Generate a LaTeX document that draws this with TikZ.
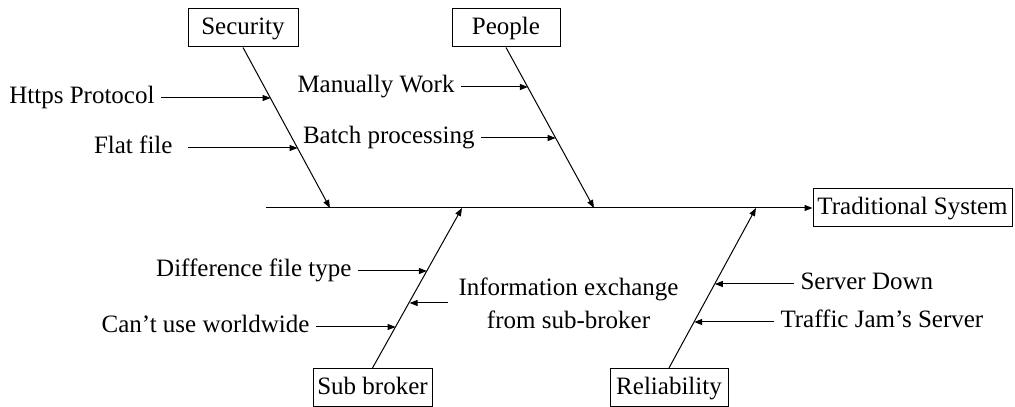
\documentclass[tikz,border=0pt]{standalone}
\usepackage{fontspec}
\setmainfont{Liberation Serif}
\usetikzlibrary{arrows.meta}

\begin{document}
\begin{tikzpicture}[line width=1bp,font=\fontsize{25bp}{31bp}\selectfont,
	box/.style={draw,rectangle,inner sep=0bp,minimum height=38bp,text height=18bp,text depth=4bp},
	cause/.style={inner xsep=6bp,inner ysep=0bp,text height=17bp,text depth=5bp},
	bone/.style={-{Triangle[length=8bp,width=6bp]}}]
		%%
	\useasboundingbox (0bp,0bp) rectangle (1015bp,407bp);
  \node (Sec) at (243bp,379bp) [box,minimum width=110bp] {Security};
  \node (Ppl) at (506bp,379bp) [box,minimum width=108bp] {People};
  \node (Sub) at (372.5bp,19.5bp) [box,minimum width=119bp] {Sub broker};
  \node (Rel) at (669bp,19.5bp) [box,minimum width=118bp] {Reliability};
  \node (Trad) at (912.5bp,199bp) [box,minimum width=199bp] {Traditional System};
  \coordinate (Tail) at (266bp,199bp);
  \coordinate (SecHit) at (330bp,199bp);
  \coordinate (PplHit) at (594bp,199bp);
  \coordinate (SubHit) at (462bp,199bp);
  \coordinate (RelHit) at (756bp,199bp);
  \draw [bone] (Tail) -- (Trad);
  \draw [bone] (Sec.south) -- (SecHit);
  \draw [bone] (Ppl.south) -- (PplHit);
  \draw [bone] (Sub.north) -- (SubHit);
  \draw [bone] (Rel.north) -- (RelHit);
  % security
  \node (Https) at (161bp,309bp) [cause,anchor=east] {Https Protocol};
  \node (Flat) at (179bp,259bp) [cause,anchor=east] {Flat file};
  \coordinate (S1) at (270.6bp,309bp);
  \coordinate (S2) at (297.6bp,259bp);
  \draw [bone] (Https) -- (S1);
  \draw [bone,shorten <=9bp] (Flat) -- (S2);
  % people
  \node (Manual) at (461bp,320bp) [cause,anchor=east] {Manually Work};
  \node (Batch) at (481bp,269bp) [cause,anchor=east] {Batch processing};
  \coordinate (P1) at (527.9bp,320bp);
  \coordinate (P2) at (555.7bp,269bp);
  \draw [bone] (Manual) -- (P1);
  \draw [bone] (Batch) -- (P2);
  % sub broker
  \node (Diff) at (358bp,136bp) [cause,anchor=east] {Difference file type};
  \node (World) at (316bp,80bp) [cause,anchor=east] {Can’t use worldwide};
  \node (Info) at (452bp,104bp) [inner xsep=6bp,inner ysep=0bp,anchor=west,align=center,font=\fontsize{25bp}{33bp}\selectfont] {Information exchange\\from sub-broker};
  \coordinate (B1) at (426.9bp,136bp);
  \coordinate (B2) at (395.6bp,80bp);
  \coordinate (B3) at (409.6bp,104bp);
  \draw [bone] (Diff) -- (B1);
  \draw [bone] (World) -- (B2);
  \draw [bone,shorten <=4bp] (Info) -- (B3);
  % reliability
  \node (Down) at (794bp,123bp) [cause,anchor=west] {Server Down};
  \node (Jam) at (774bp,85bp) [cause,anchor=west] {Traffic Jam’s Server};
  \coordinate (R1) at (714.8bp,123bp);
  \coordinate (R2) at (694.2bp,85bp);
  \draw [bone] (Down) -- (R1);
  \draw [bone] (Jam) -- (R2);
		%
	\end{tikzpicture}
\end{document}
